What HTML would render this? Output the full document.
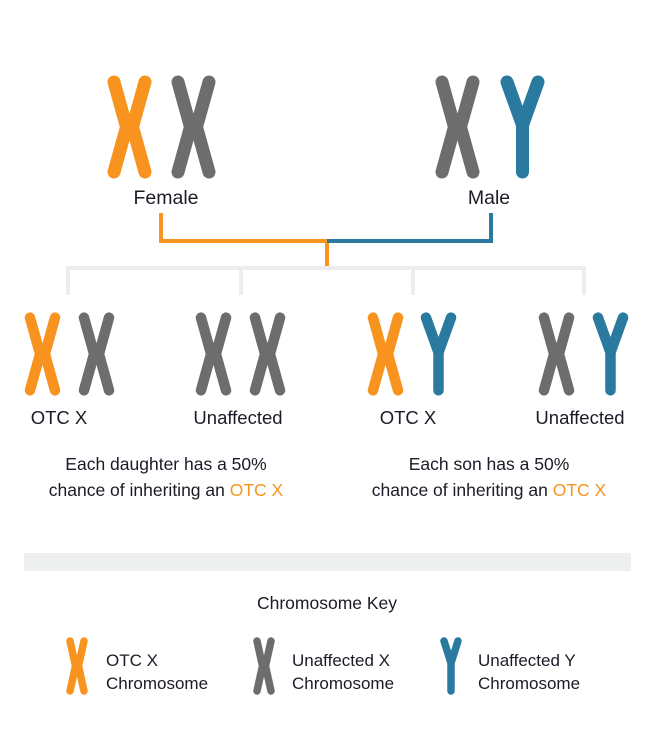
<!DOCTYPE html>
<html><head><meta charset="utf-8"><style>
html,body{margin:0;padding:0;background:#fff}
svg{display:block}
text{font-family:"Liberation Sans",sans-serif;fill:#1b1b28}
</style></head><body>
<svg width="656" height="748" viewBox="0 0 656 748" xmlns="http://www.w3.org/2000/svg">
<defs>
<symbol id="xo" viewBox="0 0 45 104"><path d="M7,7 L19.5,52 L7,97 M38,7 L25.5,52 L38,97" fill="none" stroke="#f7931e" stroke-width="13" stroke-linecap="round" stroke-linejoin="round"/></symbol>
<symbol id="xg" viewBox="0 0 45 104"><path d="M7,7 L19.5,52 L7,97 M38,7 L25.5,52 L38,97" fill="none" stroke="#6d6d6d" stroke-width="13" stroke-linecap="round" stroke-linejoin="round"/></symbol>
<symbol id="yb" viewBox="0 0 45 104"><path d="M7,7 L22.5,50 L38,7 M22.5,50 L22.5,97" fill="none" stroke="#2a7aa0" stroke-width="13" stroke-linecap="round" stroke-linejoin="round"/></symbol>
<symbol id="kxo" viewBox="0 0 22 58"><path d="M4,4 L9.5,29 L4,54 M18,4 L12.5,29 L18,54" fill="none" stroke="#f7931e" stroke-width="7.5" stroke-linecap="round" stroke-linejoin="round"/></symbol>
<symbol id="kxg" viewBox="0 0 22 58"><path d="M4,4 L9.5,29 L4,54 M18,4 L12.5,29 L18,54" fill="none" stroke="#6d6d6d" stroke-width="7.5" stroke-linecap="round" stroke-linejoin="round"/></symbol>
<symbol id="kyb" viewBox="0 0 22 58"><path d="M4,4 L11,26 L18,4 M11,26 L11,54" fill="none" stroke="#2a7aa0" stroke-width="7.5" stroke-linecap="round" stroke-linejoin="round"/></symbol>
</defs>

<use href="#xo" x="107" y="75" width="45" height="104"/>
<use href="#xg" x="171" y="75" width="45" height="104"/>
<use href="#xg" x="435" y="75" width="45" height="104"/>
<use href="#yb" x="500" y="75" width="45" height="104"/>

<text x="166" y="204" font-size="19.5" text-anchor="middle">Female</text>
<text x="489" y="204" font-size="19.5" text-anchor="middle">Male</text>

<path d="M68,295 V268 H584 V295 M241,268 V295 M413,268 V295" fill="none" stroke="#eceeed" stroke-width="4"/>
<path d="M161,213 V241 H327 V266" fill="none" stroke="#f7931e" stroke-width="4"/>
<path d="M327,241 H491 V213" fill="none" stroke="#2a7aa0" stroke-width="4"/>

<use href="#xo" x="24" y="312" width="37" height="84"/>
<use href="#xg" x="78" y="312" width="37" height="84"/>
<use href="#xg" x="195" y="312" width="37" height="84"/>
<use href="#xg" x="249" y="312" width="37" height="84"/>
<use href="#xo" x="367" y="312" width="37" height="84"/>
<use href="#yb" x="420" y="312" width="37" height="84"/>
<use href="#xg" x="538" y="312" width="37" height="84"/>
<use href="#yb" x="592" y="312" width="37" height="84"/>

<text x="59" y="424" font-size="18.5" text-anchor="middle">OTC X</text>
<text x="238" y="424" font-size="18.5" text-anchor="middle">Unaffected</text>
<text x="408" y="424" font-size="18.5" text-anchor="middle">OTC X</text>
<text x="580" y="424" font-size="18.5" text-anchor="middle">Unaffected</text>

<text x="166" y="470" font-size="17.5" text-anchor="middle">Each daughter has a 50%</text>
<text x="166" y="496" font-size="17.5" text-anchor="middle">chance of inheriting an <tspan style="fill:#f7931e">OTC X</tspan></text>
<text x="489" y="470" font-size="17.5" text-anchor="middle">Each son has a 50%</text>
<text x="489" y="496" font-size="17.5" text-anchor="middle">chance of inheriting an <tspan style="fill:#f7931e">OTC X</tspan></text>

<rect x="24" y="553" width="607" height="18" fill="#eef0ef"/>

<text x="327" y="609" font-size="17.5" text-anchor="middle">Chromosome Key</text>

<use href="#kxo" x="66" y="637" width="22" height="58"/>
<use href="#kxg" x="253" y="637" width="22" height="58"/>
<use href="#kyb" x="440" y="637" width="22" height="58"/>

<text x="106" y="666" font-size="17">OTC X</text>
<text x="106" y="689" font-size="17">Chromosome</text>
<text x="292" y="666" font-size="17">Unaffected X</text>
<text x="292" y="689" font-size="17">Chromosome</text>
<text x="478" y="666" font-size="17">Unaffected Y</text>
<text x="478" y="689" font-size="17">Chromosome</text>
</svg>
</body></html>
